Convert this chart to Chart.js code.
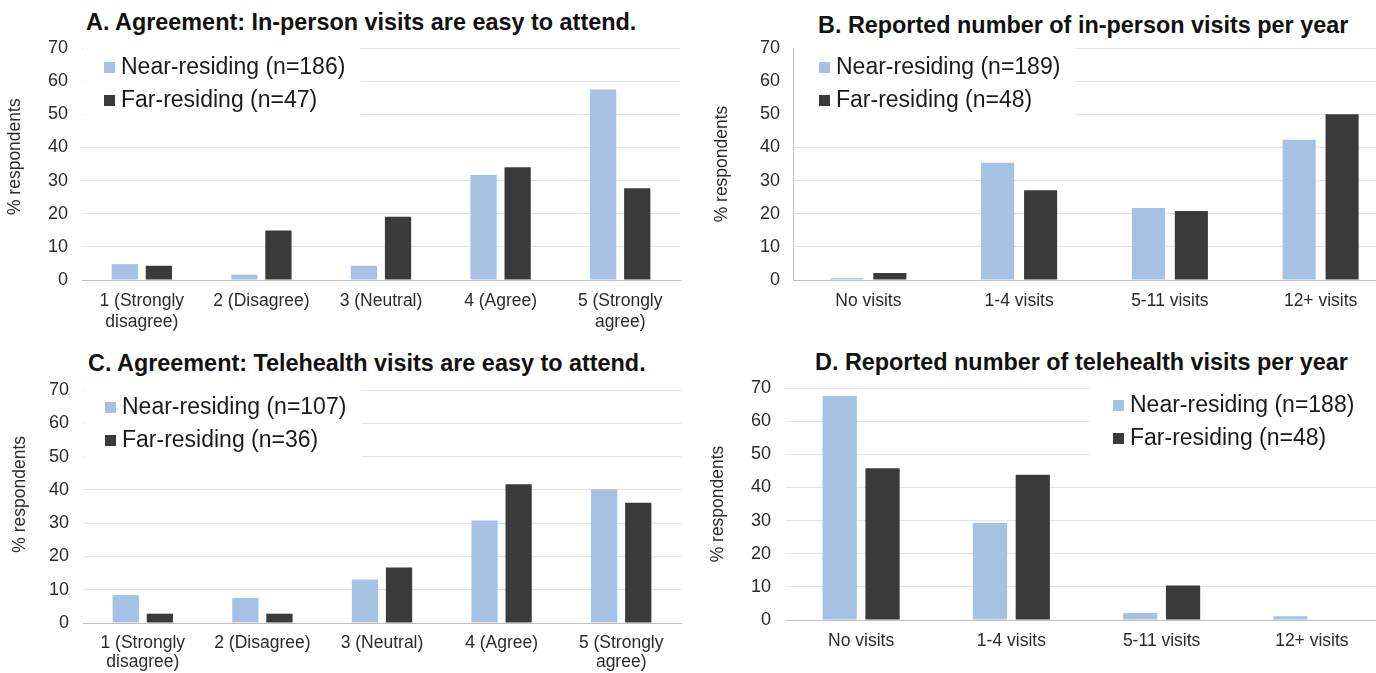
<!DOCTYPE html>
<html>
<head>
<meta charset="utf-8">
<script src="https://cdn.jsdelivr.net/npm/chart.js@4.4.1/dist/chart.umd.min.js"></script>
<style>
  html, body { margin:0; padding:0; background:#fff; overflow:hidden; }
  body { width:1376px; height:673px; position:relative; }
  .box { position:absolute; }
  .ttl { position:absolute; font-family:"Liberation Sans", Arial, sans-serif; font-weight:bold; font-size:23.4px; line-height:26px; color:#111; white-space:nowrap; }
</style>
</head>
<body>
<div class="ttl" style="left:86px; top:9px;">A. Agreement: In-person visits are easy to attend.</div>
<div class="ttl" style="left:818px; top:12px;">B. Reported number of in-person visits per year</div>
<div class="ttl" style="left:88px; top:350px;">C. Agreement: Telehealth visits are easy to attend.</div>
<div class="ttl" style="left:815px; top:349px;">D. Reported number of telehealth visits per year</div>

<div class="box" style="left:0; top:0; width:690px; height:335px;"><canvas id="chartA"></canvas></div>
<div class="box" style="left:690px; top:0; width:720px; height:335px;"><canvas id="chartB"></canvas></div>
<div class="box" style="left:0; top:335px; width:690px; height:338px;"><canvas id="chartC"></canvas></div>
<div class="box" style="left:690px; top:335px; width:720px; height:338px;"><canvas id="chartD"></canvas></div>

<script>
// categories
var agreeLabels = [['1 (Strongly','disagree)'], '2 (Disagree)', '3 (Neutral)', '4 (Agree)', ['5 (Strongly','agree)']];
var visitLabels = ['No visits', '1-4 visits', '5-11 visits', '12+ visits'];

// A. in-person visits easy to attend (% respondents)
var inPersonEaseNear = [4.8, 1.6, 4.3, 31.7, 57.5];
var inPersonEaseFar = [4.3, 14.9, 19.1, 34.0, 27.7];
// B. in-person visits per year
var inPersonCountNear = [0.5, 35.4, 21.7, 42.3];
var inPersonCountFar = [2.1, 27.1, 20.8, 50.0];
// C. telehealth visits easy to attend
var teleEaseNear = [8.4, 7.5, 13.1, 30.8, 40.2];
var teleEaseFar = [2.8, 2.8, 16.7, 41.7, 36.1];
// D. telehealth visits per year
var teleCountNear = [67.6, 29.3, 2.1, 1.1];
var teleCountFar = [45.8, 43.8, 10.4, 0];

var yTicks = [0, 10, 20, 30, 40, 50, 60, 70];

var nearColor = '#a5c2e5';
var farColor = '#3a3a3a';

Chart.defaults.font.family = '"Liberation Sans", Arial, sans-serif';
Chart.defaults.color = '#333';
Chart.defaults.animation = false;

// excel style legend sitting inside the plot on a white box
var boxLegend = {
	id: 'boxLegend',
	beforeDatasetsDraw: function(chart, args, opts) {
		var ctx = chart.ctx;
		var area = chart.chartArea;
		ctx.save();
		ctx.font = '23px "Liberation Sans", Arial, sans-serif';
		var widest = 0;
		chart.data.datasets.forEach(function(ds){
			widest = Math.max(widest, ctx.measureText(ds.label).width);
		});
		var textX = opts.x + 17;
		var bottom = chart.scales.y.getPixelForValue(45);
		ctx.fillStyle = '#fff';
		if (opts.side == 'right') {
			ctx.fillRect(opts.x - 24, area.top - 3, area.right - opts.x + 30, bottom - area.top + 3);
		} else {
			ctx.fillRect(area.left + 1, area.top - 3, textX + widest + 14 - area.left, bottom - area.top + 3);
		}
		ctx.textBaseline = 'middle';
		chart.data.datasets.forEach(function(ds, i){
			var y = opts.y + i * opts.gap;
			ctx.fillStyle = ds.backgroundColor;
			ctx.fillRect(opts.x, y - 5, 11, 11);
			ctx.fillStyle = '#1a1a1a';
			ctx.fillText(ds.label, textX, y + 1);
		});
		ctx.restore();
	}
};

function makeChart(id, labels, near, far, nearN, farN, cfg) {
	var ctx = document.getElementById(id);
	return new Chart(ctx, {
		type: 'bar',
		data: {
			labels: labels,
			datasets: [
				{ label: 'Near-residing (n=' + nearN + ')', data: near, backgroundColor: nearColor,
				  categoryPercentage: cfg.cat, barPercentage: cfg.bar },
				{ label: 'Far-residing (n=' + farN + ')', data: far, backgroundColor: farColor,
				  categoryPercentage: cfg.cat, barPercentage: cfg.bar }
			]
		},
		options: {
			responsive: true,
			maintainAspectRatio: false,
			layout: { padding: cfg.pad },
			plugins: {
				legend: { display: false },
				tooltip: { enabled: false },
				boxLegend: cfg.legend
			},
			scales: {
				x: {
					grid: { display: false, drawTicks: false },
					border: { display: true, color: '#bfbfbf', width: 1 },
					ticks: { padding: cfg.xPad, maxRotation: 0, autoSkip: false, color: '#2b2b2b',
						font: { size: 17.5, lineHeight: cfg.xLine } },
					afterFit: function(s){ s.height = cfg.xh; }
				},
				y: {
					min: 0, max: 70,
					afterBuildTicks: function(s){ s.ticks = yTicks.map(function(v){ return { value: v }; }); },
					grid: { color: '#e3e3e3', drawTicks: false },
					border: { display: cfg.yBorder, color: '#bfbfbf' },
					ticks: { padding: cfg.tickPad, color: '#2b2b2b', font: { size: 18 } },
					title: { display: true, text: cfg.yTitle, color: '#2b2b2b',
						font: { size: 17.5, lineHeight: 1.2 }, padding: cfg.titlePad },
					afterFit: function(s){ s.width = cfg.yw; }
				}
			}
		},
		plugins: [boxLegend]
	});
}

makeChart('chartA', agreeLabels, inPersonEaseNear, inPersonEaseFar, 186, 47, {
	cat: 0.57, bar: 0.77, pad: { left: 0, top: 48, right: 10, bottom: 0 },
	xh: 55, xPad: 11, xLine: 1.17, yw: 82, tickPad: 14, titlePad: 5, yBorder: false,
	yTitle: '   % respondents',
	legend: { x: 104, y: 67, gap: 33, side: 'left' }
});
makeChart('chartB', visitLabels, inPersonCountNear, inPersonCountFar, 189, 48, {
	cat: 0.57, bar: 0.77, pad: { left: 20, top: 48, right: 14, bottom: 0 },
	xh: 55, xPad: 11, xLine: 1.17, yw: 83, tickPad: 13, titlePad: 2, yBorder: true,
	yTitle: '% respondents',
	legend: { x: 129, y: 67, gap: 33, side: 'left' }
});
makeChart('chartC', agreeLabels, teleEaseNear, teleEaseFar, 107, 36, {
	cat: 0.57, bar: 0.77, pad: { left: 6, top: 55, right: 9, bottom: 0 },
	xh: 50, xPad: 11, xLine: 1.08, yw: 77, tickPad: 14, titlePad: 4, yBorder: false,
	yTitle: '     % respondents',
	legend: { x: 105, y: 72, gap: 33, side: 'left' }
});
makeChart('chartD', visitLabels, teleCountNear, teleCountFar, 188, 48, {
	cat: 0.57, bar: 0.8, pad: { left: 16, top: 53, right: 23, bottom: 0 },
	xh: 53, xPad: 11, xLine: 1.17, yw: 80, tickPad: 15, titlePad: 2, yBorder: false,
	yTitle: '% respondents',
	legend: { x: 423, y: 70, gap: 33, side: 'right' }
});
</script>
</body>
</html>
